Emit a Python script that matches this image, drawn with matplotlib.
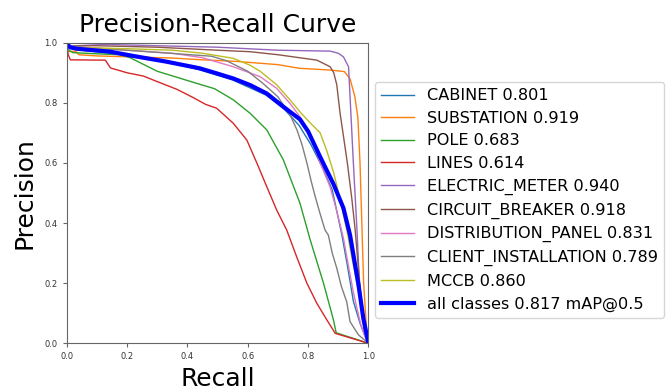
import matplotlib
matplotlib.use('Agg')
import matplotlib.pyplot as plt

# Recall / precision pairs
cabinet_r = [0, 0.01, 0.05, 0.15, 0.25, 0.35, 0.44, 0.55, 0.66, 0.72, 0.77, 0.81, 0.85, 0.88, 0.912, 0.93, 0.95, 0.972, 0.99, 1.0]
cabinet_p = [1.0, 0.985, 0.975, 0.965, 0.95, 0.932, 0.91, 0.876, 0.826, 0.78, 0.725, 0.66, 0.58, 0.51, 0.36, 0.26, 0.14, 0.067, 0.02, 0.0]

substation_r = [0, 0.03, 0.04, 0.1, 0.35, 0.45, 0.56, 0.7, 0.77, 0.873, 0.92, 0.939, 0.955, 0.965, 0.972, 0.978, 0.984, 0.994, 1.0]
substation_p = [0.97, 0.972, 0.96, 0.956, 0.949, 0.943, 0.938, 0.927, 0.915, 0.909, 0.904, 0.88, 0.82, 0.75, 0.6, 0.4, 0.2, 0.04, 0.0]

pole_r = [0, 0.02, 0.1, 0.18, 0.21, 0.254, 0.3, 0.365, 0.43, 0.49, 0.552, 0.608, 0.663, 0.718, 0.773, 0.807, 0.851, 0.884, 0.893, 1.0]
pole_p = [0.98, 0.967, 0.963, 0.96, 0.95, 0.928, 0.905, 0.885, 0.865, 0.847, 0.81, 0.765, 0.71, 0.61, 0.466, 0.344, 0.2, 0.078, 0.035, 0.0]

lines_r = [0, 0.005, 0.012, 0.128, 0.145, 0.2, 0.254, 0.309, 0.365, 0.42, 0.46, 0.497, 0.552, 0.597, 0.63, 0.663, 0.696, 0.729, 0.762, 0.796, 0.829, 0.862, 0.89, 1.0]
lines_p = [0.99, 0.96, 0.943, 0.942, 0.916, 0.9, 0.889, 0.867, 0.845, 0.817, 0.795, 0.782, 0.732, 0.676, 0.6, 0.521, 0.443, 0.377, 0.288, 0.2, 0.133, 0.078, 0.033, 0.0]

meter_r = [0, 0.1, 0.3, 0.5, 0.7, 0.873, 0.9, 0.917, 0.934, 0.939, 0.95, 0.962, 0.972, 0.985, 0.995, 1.0]
meter_p = [1.0, 0.995, 0.99, 0.985, 0.975, 0.972, 0.965, 0.953, 0.92, 0.82, 0.6, 0.377, 0.155, 0.06, 0.02, 0.0]

breaker_r = [0, 0.1, 0.3, 0.5, 0.608, 0.7, 0.829, 0.873, 0.885, 0.895, 0.906, 0.917, 0.93, 0.945, 0.956, 0.965, 0.975, 0.985, 1.0]
breaker_p = [0.99, 0.99, 0.985, 0.975, 0.97, 0.96, 0.942, 0.92, 0.9, 0.86, 0.765, 0.69, 0.6, 0.48, 0.377, 0.27, 0.155, 0.05, 0.0]

panel_r = [0, 0.2, 0.35, 0.45, 0.552, 0.641, 0.696, 0.74, 0.773, 0.81, 0.84, 0.873, 0.895, 0.917, 0.935, 0.95, 0.961, 0.975, 0.99, 1.0]
panel_p = [0.99, 0.975, 0.965, 0.95, 0.92, 0.887, 0.848, 0.798, 0.754, 0.69, 0.6, 0.52, 0.44, 0.35, 0.25, 0.17, 0.12, 0.06, 0.02, 0.0]

client_r = [0, 0.1, 0.2, 0.34, 0.48, 0.53, 0.6, 0.65, 0.7, 0.74, 0.763, 0.78, 0.796, 0.81, 0.823, 0.84, 0.856, 0.867, 0.88, 0.895, 0.91, 0.928, 0.939, 0.967, 1.0]
client_p = [0.99, 0.98, 0.975, 0.965, 0.955, 0.94, 0.905, 0.865, 0.82, 0.76, 0.71, 0.66, 0.6, 0.54, 0.49, 0.43, 0.377, 0.36, 0.3, 0.25, 0.19, 0.138, 0.072, 0.028, 0.0]

mccb_r = [0, 0.2, 0.35, 0.45, 0.552, 0.608, 0.641, 0.696, 0.74, 0.773, 0.81, 0.84, 0.862, 0.884, 0.906, 0.928, 0.95, 0.972, 0.99, 1.0]
mccb_p = [0.985, 0.98, 0.975, 0.965, 0.948, 0.925, 0.905, 0.86, 0.81, 0.77, 0.73, 0.70, 0.64, 0.57, 0.48, 0.377, 0.26, 0.15, 0.05, 0.0]

all_r = [0, 0.01, 0.033, 0.11, 0.144, 0.22, 0.33, 0.44, 0.497, 0.552, 0.608, 0.663, 0.718, 0.773, 0.8, 0.84, 0.884, 0.917, 0.939, 0.967, 0.983, 1.0]
all_p = [1.0, 0.985, 0.98, 0.973, 0.97, 0.956, 0.937, 0.915, 0.898, 0.881, 0.859, 0.831, 0.787, 0.745, 0.705, 0.62, 0.53, 0.45, 0.36, 0.194, 0.083, 0.0]

class_names = ['CABINET', 'SUBSTATION', 'POLE', 'LINES', 'ELECTRIC_METER',
               'CIRCUIT_BREAKER', 'DISTRIBUTION_PANEL', 'CLIENT_INSTALLATION', 'MCCB']
class_ap = [0.801, 0.919, 0.683, 0.614, 0.940, 0.918, 0.831, 0.789, 0.860]
map50 = 0.817

curves = [(cabinet_r, cabinet_p), (substation_r, substation_p), (pole_r, pole_p),
          (lines_r, lines_p), (meter_r, meter_p), (breaker_r, breaker_p),
          (panel_r, panel_p), (client_r, client_p), (mccb_r, mccb_p)]

fig = plt.figure(figsize=(6.72, 3.9), dpi=100)
ax = fig.add_axes([0.0993, 0.1197, 0.449, 0.7708])

for (r, p), name, ap in zip(curves, class_names, class_ap):
    ax.plot(r, p, linewidth=1, label=f'{name} {ap:.3f}')
ax.plot(all_r, all_p, linewidth=3, color='blue', label=f'all classes {map50:.3f} mAP@0.5')

ax.set_xlim(0, 1)
ax.set_ylim(0, 1)
ax.tick_params(labelsize=6, length=3, color='#666666', labelcolor='#333333')
for s in ax.spines.values():
    s.set_color('#666666')

ax.set_xlabel('Recall', fontsize=18)
ax.set_ylabel('Precision', fontsize=18, labelpad=6)
ax.set_title('Precision-Recall Curve', fontsize=18, pad=8)

ax.legend(loc='upper left', bbox_to_anchor=(0.558, 0.790), bbox_transform=fig.transFigure,
          borderaxespad=0, fontsize=11.6, labelspacing=0.47)

fig.savefig('out.png', dpi=100)
